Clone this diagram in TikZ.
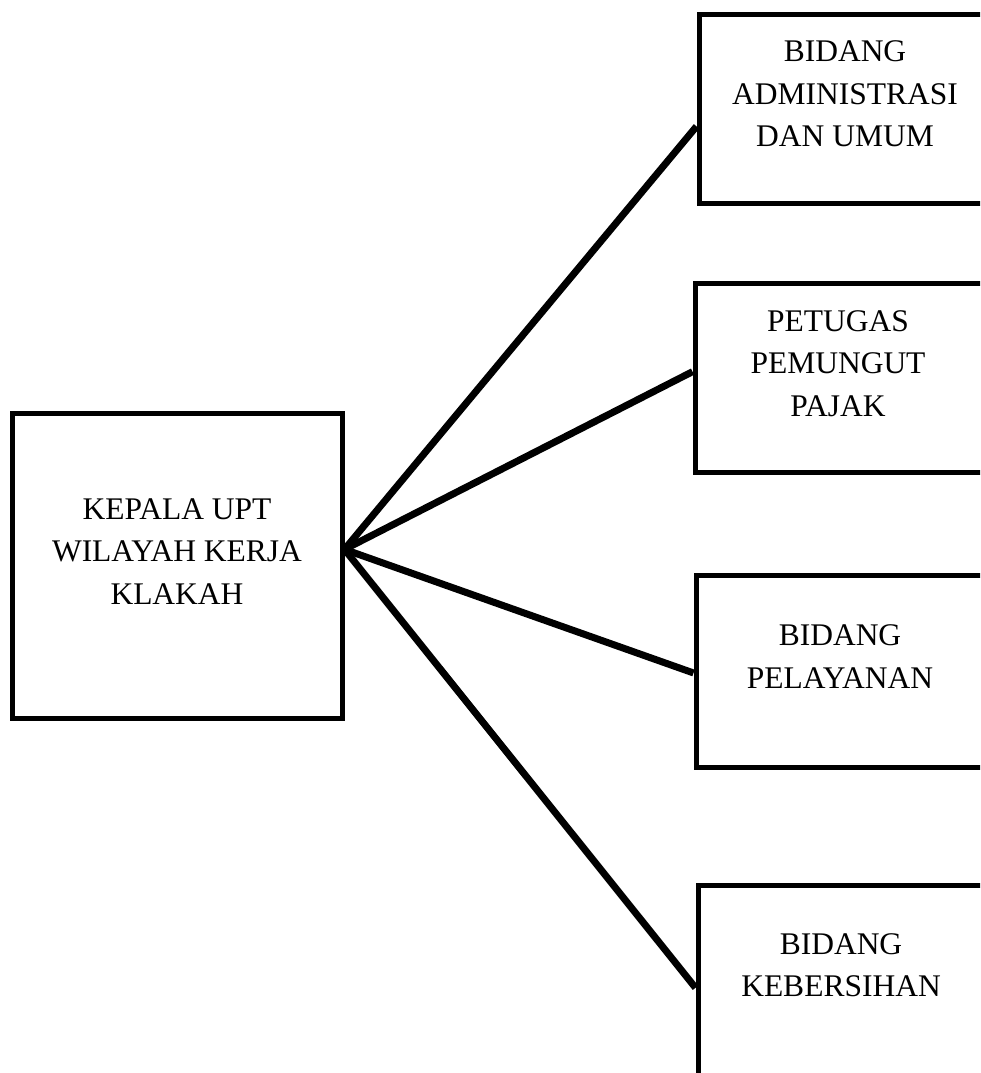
\documentclass[tikz,border=0pt]{standalone}
\usepackage{fontspec}
\setmainfont{Liberation Serif}
\usetikzlibrary{calc}
\begin{document}
\begin{tikzpicture}[x=1pt,y=-1pt,
  orgbox/.style={draw=black,line width=5pt,inner sep=0pt,fill=white},
  lbl/.style={align=center,inner sep=0pt,font=\fontsize{31.5}{42.5}\selectfont},
  conn/.style={line width=7pt,line cap=butt}]
\path[use as bounding box,fill=white] (0,0) rectangle (980,1073);
\clip (0,0) rectangle (980,1073);
% boxes
\node[orgbox,minimum width=330pt,minimum height=305pt] (kepala) at (177,565.5) {};
\node[orgbox,minimum width=292pt,minimum height=188pt] (admin) at (845,109) {};
\node[orgbox,minimum width=288pt,minimum height=189pt] (petugas) at (839,377.5) {};
\node[orgbox,minimum width=288pt,minimum height=192pt] (layan) at (840,671) {};
\node[orgbox,minimum width=286pt,minimum height=190pt] (bersih) at (841,980) {};
% texts
\node[lbl] (kepalaT) at (177,551.5) {KEPALA UPT\\WILAYAH KERJA\\KLAKAH};
\node[lbl] (adminT) at (845,94) {BIDANG\\ADMINISTRASI\\DAN UMUM};
\node[lbl] (petugasT) at (838,363.5) {PETUGAS\\PEMUNGUT\\PAJAK};
\node[lbl] (layanT) at (840,656.5) {BIDANG\\PELAYANAN};
\node[lbl] (bersihT) at (841,965) {BIDANG\\KEBERSIHAN};
% connector end points
\coordinate (hub) at ($(kepala.north east)!0.448!(kepala.south east)$);
\coordinate (e1) at ($(admin.north west)!0.59!(admin.south west)$);
\coordinate (e2) at ($(petugas.north west)!0.47!(petugas.south west)$);
\coordinate (e3) at ($(layan.north west)!0.51!(layan.south west)$);
\coordinate (e4) at ($(bersih.north west)!0.54!(bersih.south west)$);
\draw[conn] (hub) -- (e1);
\draw[conn] (hub) -- (e2);
\draw[conn] (hub) -- (e3);
\draw[conn] (hub) -- (e4);
\end{tikzpicture}
\end{document}
